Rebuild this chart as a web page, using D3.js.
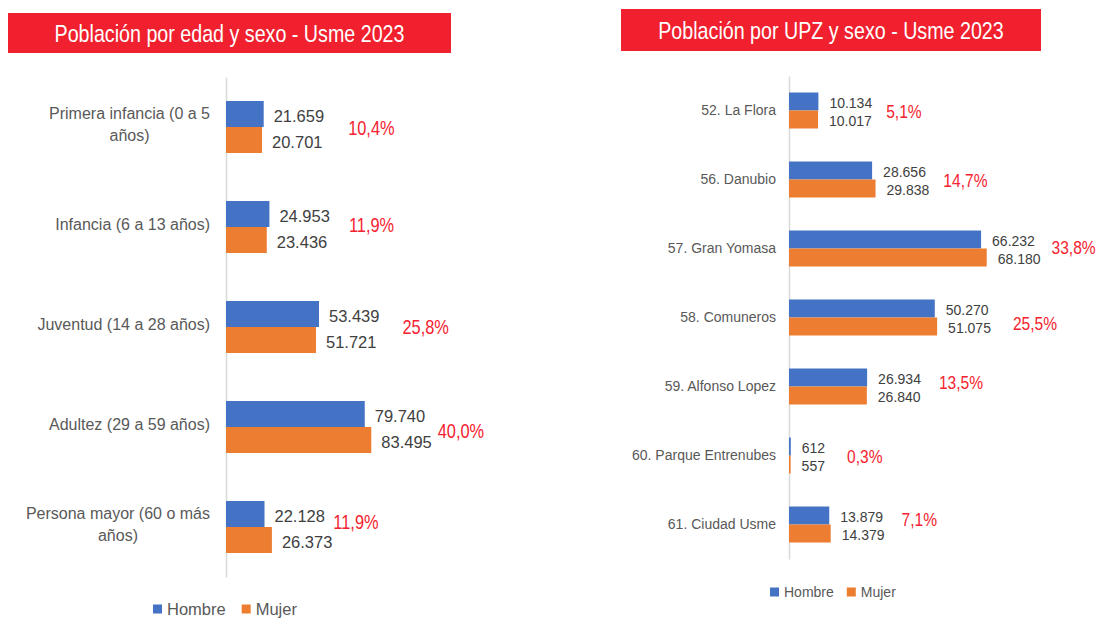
<!DOCTYPE html>
<html lang="es">
<head>
<meta charset="UTF-8">
<title>Población Usme 2023</title>
<script src="https://d3js.org/d3.v7.min.js"></script>
<style>
  body { margin: 0; background: #fff; }
  svg { display: block; }
  .cat text { fill: #595959; font-family: "Liberation Sans", Arial, sans-serif; }
  .val { fill: #404040; font-family: "Liberation Sans", Arial, sans-serif; }
  .pct { fill: #F5222F; font-family: "Liberation Sans", Arial, sans-serif; }
  .title { fill: #fff; font-family: "Liberation Sans", Arial, sans-serif; }
  .legend text { fill: #595959; font-family: "Liberation Sans", Arial, sans-serif; }
</style>
</head>
<body>
<svg id="chart"></svg>
<script>
// data
const series = ["Hombre", "Mujer"];

const ageGroups = ["Primera infancia (0 a 5 años)", "Infancia (6 a 13 años)", "Juventud (14 a 28 años)",
                   "Adultez (29 a 59 años)", "Persona mayor (60 o más años)"];
const ageHombre = [21659, 24953, 53439, 79740, 22128];
const ageMujer  = [20701, 23436, 51721, 83495, 26373];
const agePct    = ["10,4%", "11,9%", "25,8%", "40,0%", "11,9%"];

const upzNames  = ["52. La Flora", "56. Danubio", "57. Gran Yomasa", "58. Comuneros",
                   "59. Alfonso Lopez", "60. Parque Entrenubes", "61. Ciudad Usme"];
const upzHombre = [10134, 28656, 66232, 50270, 26934, 612, 13879];
const upzMujer  = [10017, 29838, 68180, 51075, 26840, 557, 14379];
const upzPct    = ["5,1%", "14,7%", "33,8%", "25,5%", "13,5%", "0,3%", "7,1%"];

const colors = { Hombre: "#4472C4", Mujer: "#ED7D31" };
const RED = "#F0202E";
const NARROW = 0.82; // no condensed font installed, squeeze glyphs instead

const fmt = d3.formatLocale({ decimal: ",", thousands: ".", grouping: [3], currency: ["$", ""] }).format(",d");

const svg = d3.select("#chart").attr("width", 1099).attr("height", 619);
svg.append("rect").attr("width", 1099).attr("height", 619).attr("fill", "#fff");

// squeeze horizontally around the text's own anchor x
function condense(sel, f) {
  sel.each(function () {
    const x = +this.getAttribute("x");
    d3.select(this).attr("transform", `translate(${x},0) scale(${f},1) translate(${-x},0)`);
  });
}

function wrapCentered(sel, maxW, lineH, shift) {
  sel.each(function () {
    const t = d3.select(this);
    const words = t.text().split(" ");
    const x0 = +t.attr("x");
    t.text(null);
    let lines = [], line = [];
    const probe = t.append("tspan");
    words.forEach(w => {
      line.push(w);
      probe.text(line.join(" "));
      if (probe.node().getComputedTextLength() > maxW && line.length > 1) {
        line.pop();
        lines.push(line.join(" "));
        line = [w];
      }
    });
    lines.push(line.join(" "));
    probe.remove();
    let widest = 0;
    lines.forEach(l => {
      const p = t.append("tspan").text(l);
      widest = Math.max(widest, p.node().getComputedTextLength());
      p.remove();
    });
    const cx = x0 - widest / 2;
    t.attr("text-anchor", "middle").attr("dy", null);
    lines.forEach((l, i) => {
      t.append("tspan").attr("x", cx)
        .attr("dy", i === 0 ? ((-(lines.length - 1) / 2) * lineH + shift) + "px" : lineH + "px")
        .text(l);
    });
  });
}

function panel(o) {
  const g = svg.append("g");

  g.append("rect")
    .attr("x", o.box[0]).attr("y", o.box[1])
    .attr("width", o.box[2] - o.box[0]).attr("height", o.box[3] - o.box[1])
    .attr("fill", RED);
  g.append("text").attr("class", "title")
    .attr("x", (o.box[0] + o.box[2]) / 2).attr("y", (o.box[1] + o.box[3]) / 2 + 1)
    .attr("text-anchor", "middle").attr("dominant-baseline", "central")
    .style("font-size", o.titleSize + "px")
    .text(o.title)
    .call(condense, NARROW);

  const y = d3.scaleBand().domain(o.cats).range(o.yRange);
  const sub = d3.scaleBand().domain(series).range([0, o.groupH]);
  const x = d3.scaleLinear().domain([0, 100000]).range(o.xRange);

  const rows = o.cats.map((c, i) => ({
    cat: c, i, pct: o.pct[i],
    vals: [{ s: "Hombre", v: o.h[i] }, { s: "Mujer", v: o.m[i] }]
  }));

  // category axis
  const ax = g.append("g").attr("class", "cat")
    .attr("transform", `translate(${x(0)},0)`)
    .call(d3.axisLeft(y).tickSize(0).tickSizeOuter(0).tickPadding(o.catPad));
  ax.select(".domain").attr("stroke", "#D9D9D9").attr("stroke-width", 1.5);
  ax.selectAll(".tick text").style("font-size", o.catSize + "px");
  if (o.wrapW) ax.selectAll(".tick text").call(wrapCentered, o.wrapW, o.catSize * 1.38, o.catSize * 0.2);

  const grp = g.selectAll(".grp").data(rows).enter().append("g")
    .attr("transform", d => `translate(0,${y(d.cat) + (y.bandwidth() - o.groupH) / 2})`);

  grp.selectAll("rect").data(d => d.vals).enter().append("rect")
    .attr("x", x(0))
    .attr("y", d => sub(d.s))
    .attr("width", d => x(d.v) - x(0))
    .attr("height", sub.bandwidth())
    .attr("fill", d => colors[d.s]);

  grp.selectAll(".val").data(d => d.vals).enter().append("text")
    .attr("class", "val")
    .attr("x", d => x(d.v) + o.valGap)
    .attr("y", d => sub(d.s) + sub.bandwidth() / 2 + o.valDy)
    .attr("dominant-baseline", "central")
    .style("font-size", o.valSize + "px")
    .text(d => fmt(d.v));

  grp.each(function (d) {
    const gg = d3.select(this);
    let end = 0;
    gg.selectAll(".val").each(function () {
      end = Math.max(end, +this.getAttribute("x") + this.getComputedTextLength());
    });
    const n = o.pctNudge[d.i] || [0, 0];
    gg.append("text").attr("class", "pct")
      .attr("x", end + o.pctGap + n[0])
      .attr("y", o.groupH / 2 + 1 + n[1])
      .attr("dominant-baseline", "central")
      .style("font-size", o.pctSize + "px")
      .text(d.pct)
      .call(condense, NARROW);
  });

  // legend
  const lg = g.append("g").attr("class", "legend");
  let lx = o.legend[0];
  series.forEach(s => {
    lg.append("rect").attr("x", lx).attr("y", o.legend[1] - o.legSq / 2)
      .attr("width", o.legSq).attr("height", o.legSq).attr("fill", colors[s]);
    const t = lg.append("text").attr("x", lx + o.legSq + 5).attr("y", o.legend[1])
      .attr("dominant-baseline", "central").style("font-size", o.legSize + "px").text(s);
    lx += o.legSq + 5 + t.node().getComputedTextLength() + o.legGap;
  });
}

panel({
  title: "Población por edad y sexo - Usme 2023", titleSize: 24,
  box: [8, 13, 451, 53],
  cats: ageGroups, h: ageHombre, m: ageMujer, pct: agePct,
  yRange: [77, 577], xRange: [226, 400], groupH: 52,
  catPad: 16, catSize: 16, wrapW: 196,
  valGap: 10, valDy: 2, valSize: 16.5,
  pctGap: 22, pctSize: 20,
  pctNudge: { 0: [2, 0], 1: [-3, -3], 2: [1, -1], 3: [-16, 3], 4: [-21, -6] },
  legend: [153, 609], legSq: 9, legSize: 16.5, legGap: 16
});

panel({
  title: "Población por UPZ y sexo - Usme 2023", titleSize: 24,
  box: [621, 9, 1041, 51],
  cats: upzNames, h: upzHombre, m: upzMujer, pct: upzPct,
  yRange: [76, 559], xRange: [789, 1079], groupH: 36,
  catPad: 13, catSize: 14, wrapW: 0,
  valGap: 11, valDy: 1, valSize: 14,
  pctGap: 16, pctSize: 19,
  pctNudge: { 0: [-2, 0], 1: [-2, 0], 2: [-5, -2], 3: [6, 5], 4: [2, -5], 5: [6, 0], 6: [1, -6] },
  legend: [770, 592], legSq: 9, legSize: 14, legGap: 13
});
</script>
</body>
</html>
